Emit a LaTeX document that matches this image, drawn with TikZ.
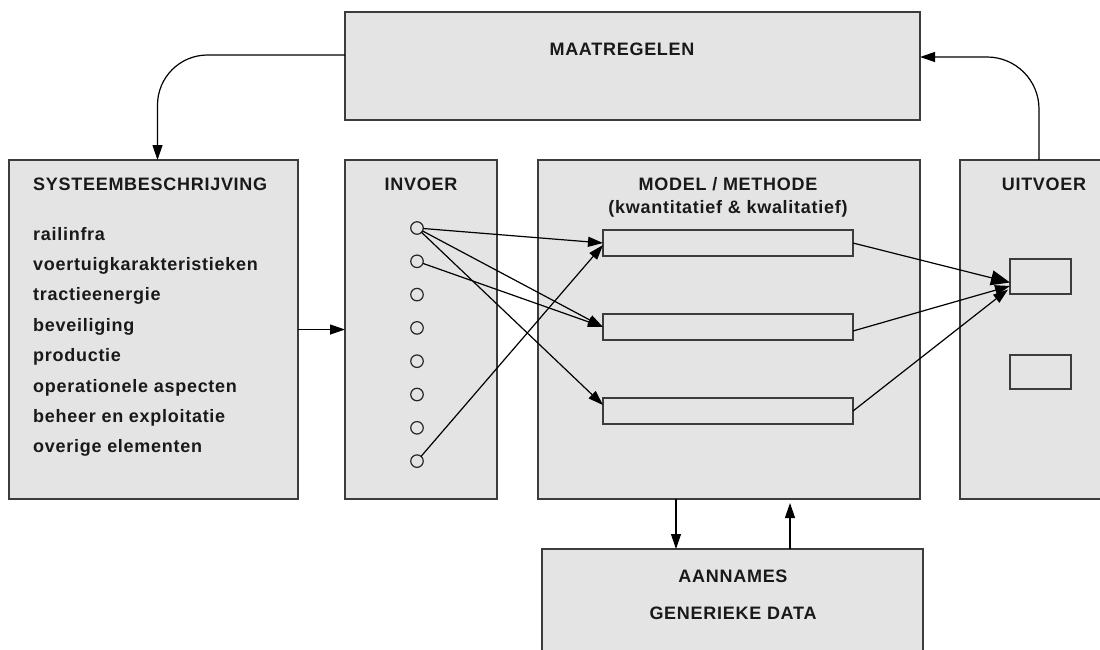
\documentclass[tikz,border=0pt]{standalone}
\usepackage{fontspec}
\setmainfont{Liberation Sans}[LetterSpace=4]
\usetikzlibrary{arrows.meta}
\definecolor{boxfill}{HTML}{E4E4E4}
\definecolor{boxline}{HTML}{3C3C3C}
\begin{document}
\begin{tikzpicture}[x=1pt,y=-1pt,
  bigbox/.style={draw=boxline, fill=boxfill, line width=1.4pt, inner sep=0pt, outer sep=0pt, rectangle},
  slot/.style={draw=boxline, fill=boxfill, line width=1.3pt, inner sep=0pt, outer sep=0pt, rectangle},
  dot/.style={draw=black!85, fill=boxfill, line width=1.2pt, circle, inner sep=0pt, minimum size=12.5pt, outer sep=0pt},
  lbl/.style={font=\fontsize{18}{20}\selectfont\bfseries, inner sep=0pt, text=black!90},
  arr/.style={draw=black, line width=1.2pt, -{Triangle[length=15pt,width=10pt]}},
  bigarr/.style={draw=black, line width=1.2pt, -{Triangle[length=19pt,width=15pt]}}
]
\useasboundingbox (0,0) rectangle (1100,649);
\clip (0,0) rectangle (1100,649);

% boxes
\node[bigbox, minimum width=575pt, minimum height=108pt] (maat) at (632.5,66) {};
\node[bigbox, minimum width=289pt, minimum height=339pt] (sys) at (153.5,329.5) {};
\node[bigbox, minimum width=152pt, minimum height=339pt] (inv) at (421,329.5) {};
\node[bigbox, minimum width=382pt, minimum height=339pt] (mod) at (729,329.5) {};
\node[bigbox, minimum width=170pt, minimum height=339pt] (uit) at (1045,329.5) {};
\node[bigbox, minimum width=381pt, minimum height=121pt] (aann) at (732.5,609.5) {};

% inner slots
\node[slot, minimum width=250pt, minimum height=26pt] (r1) at (728,243) {};
\node[slot, minimum width=250pt, minimum height=26pt] (r2) at (728,327) {};
\node[slot, minimum width=250pt, minimum height=26pt] (r3) at (728,411) {};
\node[slot, minimum width=61pt, minimum height=35pt] (o1) at (1040.5,276.5) {};
\node[slot, minimum width=61pt, minimum height=34pt] (o2) at (1040.5,372) {};

% input dots
\foreach \i in {1,...,8} {
  \node[dot] (c\i) at (417,{228+33.3*(\i-1)}) {};
}

% labels
\node[lbl, anchor=base] (tmaat) at (622,55.5) {MAATREGELEN};
\node[lbl, anchor=base west] (tsys) at (33,190) {SYSTEEMBESCHRIJVING};
\node[lbl, anchor=base] (tinv) at (421,190) {INVOER};
\node[lbl, anchor=base] (tmod) at (728,190) {MODEL / METHODE};
\node[lbl, anchor=base] (tmod2) at (728,213) {(kwantitatief \& kwalitatief)};
\node[lbl, anchor=base] (tuit) at (1044,190) {UITVOER};
\node[lbl, anchor=base] (taan) at (733,582.5) {AANNAMES};
\node[lbl, anchor=base] (tgen) at (733,619.5) {GENERIEKE DATA};

\node[lbl, anchor=base west] (i1) at (33,240.0) {railinfra};
\node[lbl, anchor=base west] (i2) at (33,270.4) {voertuigkarakteristieken};
\node[lbl, anchor=base west] (i3) at (33,300.8) {tractieenergie};
\node[lbl, anchor=base west] (i4) at (33,331.2) {beveiliging};
\node[lbl, anchor=base west] (i5) at (33,361.6) {productie};
\node[lbl, anchor=base west] (i6) at (33,392.0) {operationele aspecten};
\node[lbl, anchor=base west] (i7) at (33,422.4) {beheer en exploitatie};
\node[lbl, anchor=base west] (i8) at (33,452.8) {overige elementen};

% feedback loop
\draw[arr, rounded corners=50pt] ([yshift=11pt]maat.west) -| ([xshift=4pt]sys.north);
\draw[arr, rounded corners=52pt] ([xshift=-6pt]uit.north) |- ([yshift=9pt]maat.east);

% system -> input
\draw[arr] (sys.east) -- (inv.west);

% inputs -> model slots
\draw[arr] (c1) -- (r1.west);
\draw[arr] (c1) -- (r2.west);
\draw[arr] (c2) -- (r2.west);
\draw[arr] (c1) -- ([yshift=6pt]r3.west);
\draw[arr] (c8) -- ([yshift=-2pt]r1.west);

% model slots -> output
\draw[bigarr] (r1.east) -- ([yshift=-6pt]o1.west);
\draw[arr] ([yshift=-4pt]r2.east) -- ([yshift=-9.5pt]o1.west);
\draw[arr] (r3.east) -- ([xshift=-2pt,yshift=-13pt]o1.west);

% model <-> assumptions
\draw[arr] ([xshift=-53pt]mod.south) -- ([xshift=-53pt]mod.south |- aann.north);
\draw[arr] ([xshift=61pt]mod.south |- aann.north) -- ([xshift=61pt,yshift=-4pt]mod.south);
\end{tikzpicture}
\end{document}
